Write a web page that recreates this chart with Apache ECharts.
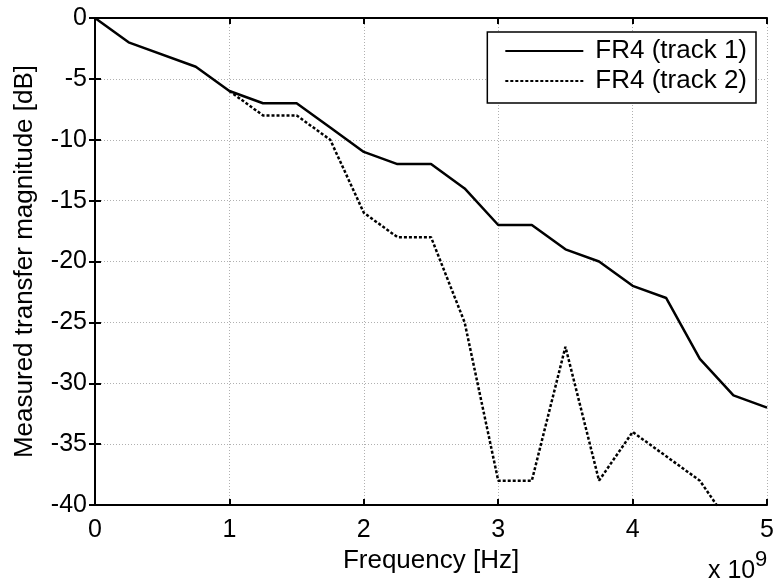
<!DOCTYPE html>
<html>
<head>
<meta charset="utf-8">
<script src="https://cdn.jsdelivr.net/npm/echarts@6/dist/echarts.min.js"></script>
<style>html,body{margin:0;padding:0;background:#fff}#c{width:777px;height:584px}</style>
</head>
<body>
<div id="c"></div>
<script>
const freq1 = [0, 0.25, 0.75, 1, 1.25, 1.5, 1.75, 2, 2.25, 2.5, 2.75, 3, 3.25, 3.5, 3.75, 4, 4.25, 4.5, 4.75, 5];
const track1 = [0, -2, -4, -6, -7, -7, -9, -11, -12, -12, -14, -17, -17, -19, -20, -22, -23, -28, -31, -32];
const freq2 = [1, 1.25, 1.5, 1.75, 2, 2.25, 2.5, 2.75, 3, 3.25, 3.5, 3.75, 4, 4.25, 4.5, 4.75];
const track2 = [-6, -8, -8, -10, -16, -18, -18, -25, -38, -38, -27, -38, -34, -36, -38, -42];
const xTicks = [0, 1, 2, 3, 4, 5];
const yTicks = [0, -5, -10, -15, -20, -25, -30, -35, -40];
const seriesNames = ['FR4 (track 1)', 'FR4 (track 2)'];

const FONT = 'Liberation Sans, Arial, sans-serif';
const chart = echarts.init(document.getElementById('c'));
const pairs = (xs, ys) => xs.map((x, i) => [x, ys[i]]);

chart.setOption({
  animation: false,
  backgroundColor: '#fff',
  grid: { left: 95, right: 9, top: 18, bottom: 79, show: false },
  legend: {
    right: 21, top: 32,
    orient: 'vertical',
    backgroundColor: '#fff',
    borderColor: '#000', borderWidth: 1.5,
    padding: [6, 9, 9, 17],
    itemWidth: 78, itemHeight: 14, itemGap: 4,
    itemStyle: { opacity: 0 },
    textStyle: { fontFamily: FONT, fontSize: 26, color: '#000', padding: [0, 0, 0, 7] },
    data: seriesNames
  },
  xAxis: [{
    type: 'value', min: xTicks[0], max: xTicks[xTicks.length - 1], interval: 1,
    name: 'Frequency [Hz]', nameLocation: 'middle', nameGap: 42,
    nameTextStyle: { fontFamily: FONT, fontSize: 26, color: '#000' },
    axisLine: { show: true, onZero: false, lineStyle: { color: '#000', width: 2 } },
    axisTick: { show: true, inside: true, length: 6, lineStyle: { color: '#000', width: 2 } },
    axisLabel: { fontFamily: FONT, fontSize: 25, color: '#000', margin: 13 },
    splitLine: { show: true, lineStyle: { color: '#b0b0b0', width: 1, type: [1, 2] } }
  }, {
    type: 'value', position: 'top', min: xTicks[0], max: xTicks[xTicks.length - 1], interval: 1,
    axisLine: { show: true, lineStyle: { color: '#000', width: 2 } },
    axisTick: { show: true, inside: true, length: 6, lineStyle: { color: '#000', width: 2 } },
    axisLabel: { show: false }, splitLine: { show: false }
  }],
  yAxis: [{
    type: 'value', min: yTicks[yTicks.length - 1], max: yTicks[0], interval: 5,
    name: 'Measured transfer magnitude [dB]', nameLocation: 'middle', nameGap: 57,
    nameTextStyle: { fontFamily: FONT, fontSize: 26, color: '#000' },
    axisLine: { show: true, onZero: false, lineStyle: { color: '#000', width: 2 } },
    axisTick: { show: true, inside: true, length: 6, lineStyle: { color: '#000', width: 2 } },
    axisLabel: { fontFamily: FONT, fontSize: 25, color: '#000', margin: 8 },
    splitLine: { show: true, lineStyle: { color: '#b0b0b0', width: 1, type: [1, 2] } }
  }, {
    type: 'value', position: 'right', min: yTicks[yTicks.length - 1], max: yTicks[0], interval: 5,
    axisLine: { show: true, lineStyle: { color: '#000', width: 2 } },
    axisTick: { show: true, inside: true, length: 6, lineStyle: { color: '#000', width: 2 } },
    axisLabel: { show: false }, splitLine: { show: false }
  }],
  series: [{
    name: seriesNames[0], type: 'line', symbol: 'none', clip: true,
    data: pairs(freq1, track1),
    lineStyle: { color: '#000', width: 2.5, type: 'solid' },
    itemStyle: { color: '#000' }, z: 3
  }, {
    name: seriesNames[1], type: 'line', symbol: 'none', clip: true,
    data: pairs(freq2, track2),
    lineStyle: { color: '#000', width: 2.5, type: [3, 2] },
    itemStyle: { color: '#000' }, z: 4
  }],
  graphic: [{
    type: 'text', left: 708, top: 559,
    style: { text: 'x 10', fontFamily: FONT, fontSize: 25, fill: '#000' }
  }, {
    type: 'text', left: 755, top: 549,
    style: { text: '9', fontFamily: FONT, fontSize: 22, fill: '#000' }
  }]
});
</script>
</body>
</html>
